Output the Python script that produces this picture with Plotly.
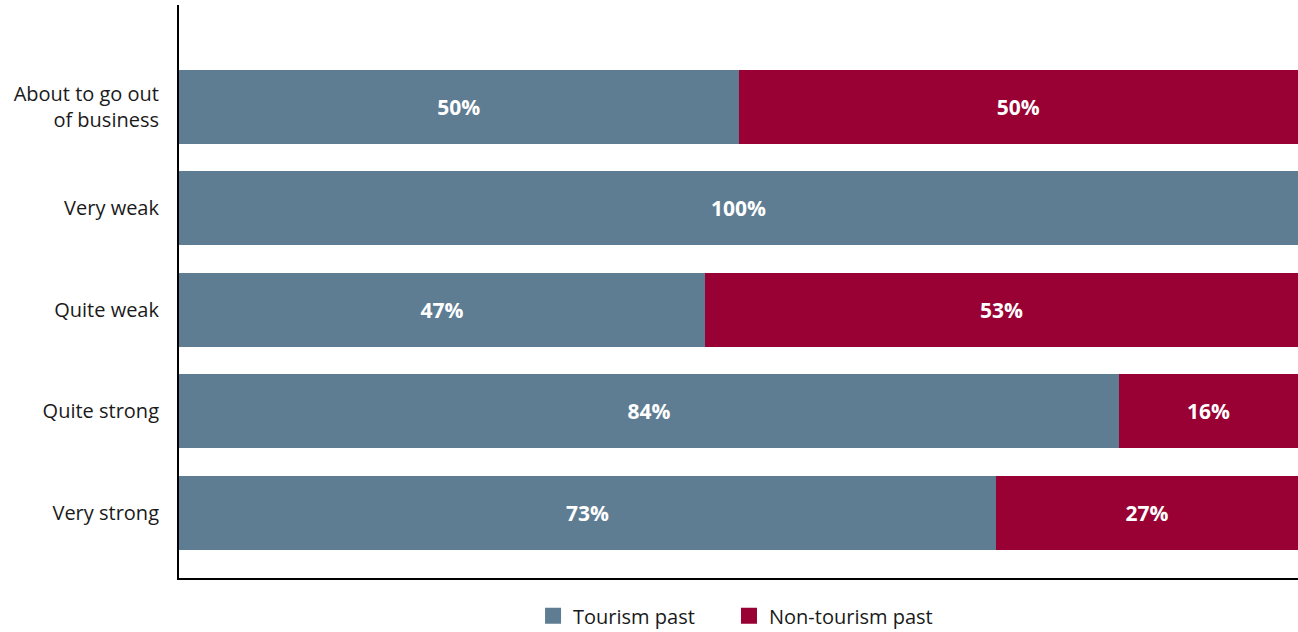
import plotly.graph_objects as go

# Business condition categories, listed top to bottom
categories = [
    "About to go out<br>of business",
    "Very weak",
    "Quite weak",
    "Quite strong",
    "Very strong",
]
# Share of respondents (%) by past sector
tourism_past = [50, 100, 47, 84, 73]
non_tourism_past = [50, 0, 53, 16, 27]

BLUE = "#5E7D93"
RED = "#990033"
FONT = "Open Sans, Liberation Sans, sans-serif"


def labels(values):
    return [f"{v}%" if v > 0 else "" for v in values]


fig = go.Figure()
fig.add_trace(go.Bar(
    y=categories, x=tourism_past, orientation="h", name="Tourism past",
    marker=dict(color=BLUE, line=dict(width=0)),
    text=labels(tourism_past), textposition="inside", insidetextanchor="middle",
    textfont=dict(color="white", size=21, family=FONT, weight="bold"),
    width=0.73, showlegend=False, hoverinfo="x+y",
))
fig.add_trace(go.Bar(
    y=categories, x=non_tourism_past, orientation="h", name="Non-tourism past",
    marker=dict(color=RED, line=dict(width=0)),
    text=labels(non_tourism_past), textposition="inside", insidetextanchor="middle",
    textfont=dict(color="white", size=21, family=FONT, weight="bold"),
    width=0.73, showlegend=False, hoverinfo="x+y",
))

# Legend entries drawn as square markers, one legend box per series
for name, color, lg in [("Tourism past", BLUE, "legend"),
                        ("Non-tourism past", RED, "legend2")]:
    fig.add_trace(go.Scatter(
        x=[None], y=[None], mode="markers", name=name, legend=lg,
        marker=dict(symbol="square", size=22, color=color),
    ))

legend_style = dict(
    orientation="h", xanchor="left", y=-0.066, yanchor="middle",
    font=dict(size=20, family=FONT, color="#1a1a1a"),
    itemwidth=30, bgcolor="rgba(0,0,0,0)",
)

fig.update_layout(
    width=1298, height=632,
    margin=dict(l=179, r=0, t=5, b=54, autoexpand=False),
    barmode="stack",
    plot_bgcolor="white", paper_bgcolor="white",
    font=dict(family=FONT, size=20, color="#1a1a1a"),
    uniformtext=dict(minsize=21, mode="show"),
    showlegend=True,
    legend=dict(x=0.3164, **legend_style),
    legend2=dict(x=0.4915, **legend_style),
    xaxis=dict(
        range=[0, 100], showgrid=False, zeroline=False, showticklabels=False,
        showline=True, linecolor="black", linewidth=2, fixedrange=True,
    ),
    yaxis=dict(
        type="category", categoryorder="array", categoryarray=categories,
        range=[4.64, -1.0], showgrid=False, zeroline=False,
        showline=True, linecolor="black", linewidth=2,
        ticks="", ticklabelstandoff=14,
        tickfont=dict(size=20, family=FONT, color="#1a1a1a"),
    ),
)

fig.write_html("out.html")
